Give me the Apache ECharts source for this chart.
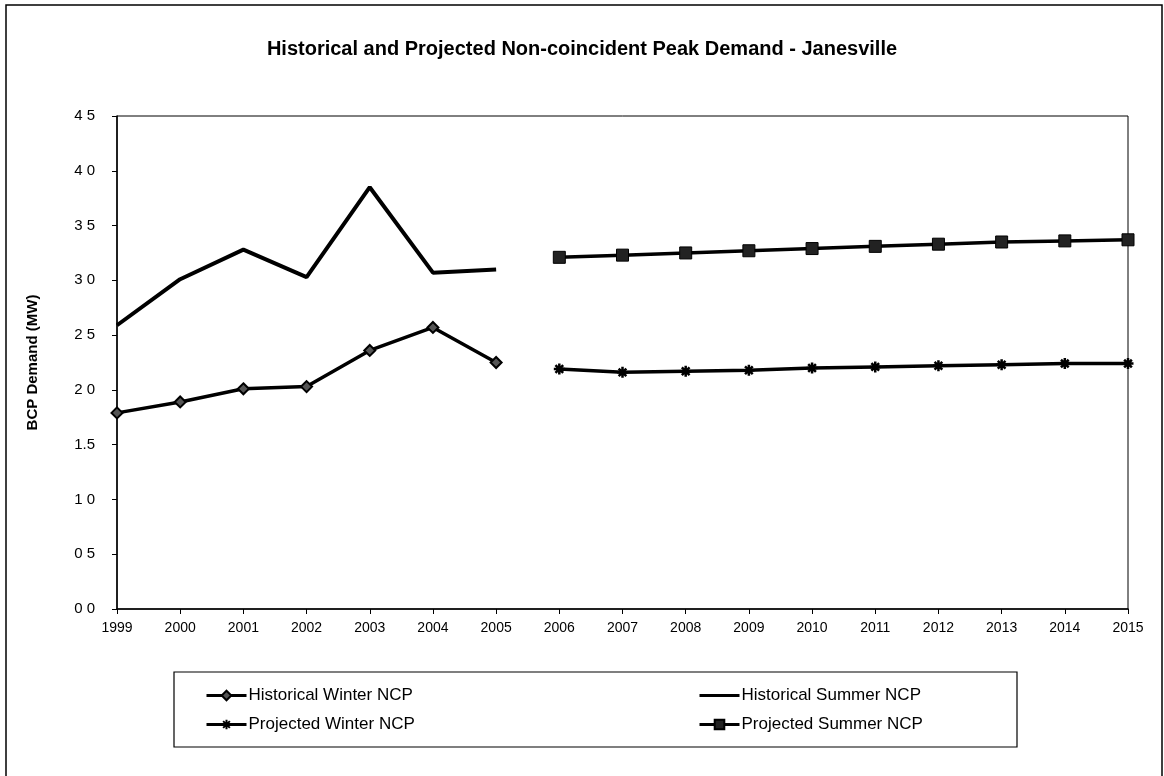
<!DOCTYPE html>
<html>
<head>
<meta charset="utf-8">
<title>Historical and Projected Non-coincident Peak Demand - Janesville</title>
<script src="https://cdn.jsdelivr.net/npm/echarts@6/dist/echarts.min.js"></script>
<style>
  html, body { margin: 0; padding: 0; background: #fff; }
  #chart { width: 1164px; height: 776px; }
</style>
</head>
<body>
<div id="chart"></div>
<script>
// Years on the x axis
const years = ['1999','2000','2001','2002','2003','2004','2005','2006','2007',
               '2008','2009','2010','2011','2012','2013','2014','2015'];
const histYears = ['1999','2000','2001','2002','2003','2004','2005'];
const projYears = ['2006','2007','2008','2009','2010','2011','2012','2013','2014','2015'];

// Non-coincident peak demand (MW)
const histWinter = [1.79, 1.89, 2.01, 2.03, 2.36, 2.57, 2.25];
const histSummer = [2.59, 3.01, 3.28, 3.03, 3.85, 3.07, 3.10];
const projWinter = [2.19, 2.16, 2.17, 2.18, 2.20, 2.21, 2.22, 2.23, 2.24, 2.24];
const projSummer = [3.21, 3.23, 3.25, 3.27, 3.29, 3.31, 3.33, 3.35, 3.36, 3.37];

// Value-axis tick labels, bottom to top
const yTicks = ['0 0','0 5','1 0','1.5','2 0','2 5','3 0','3 5','4 0','4 5'];

const FONT = '"Liberation Sans", Arial, sans-serif';

// Spread a partial series across the full year list
function onYears(subYears, values) {
  return years.map(y => {
    const i = subYears.indexOf(y);
    return i >= 0 ? values[i] : null;
  });
}

// Asterisk marker drawn as stroked strokes
const asterisk = 'path://M0,5L10,5M5,0L5,10M1.5,1.5L8.5,8.5M8.5,1.5L1.5,8.5';

const chart = echarts.init(document.getElementById('chart'), null, { renderer: 'canvas' });

function legendAt(entry, left, top) {
  return {
    data: [entry],
    left: left, top: top,
    itemWidth: 40, itemHeight: 12,
    itemGap: 0,
    padding: 0,
    lineStyle: { width: 3, color: '#000' },
    textStyle: { fontFamily: FONT, fontSize: 17, color: '#000', padding: [0, 0, 0, -3] },
    selectedMode: false
  };
}

const option = {
  animation: false,
  backgroundColor: '#fff',
  title: {
    text: 'Historical and Projected Non-coincident Peak Demand - Janesville',
    left: 'center',
    top: 34,
    textStyle: { fontFamily: FONT, fontSize: 20, fontWeight: 'bold', color: '#000' }
  },
  grid: {
    left: 117, right: 36, top: 116, bottom: 167,
    show: true, borderColor: '#000', borderWidth: 1, backgroundColor: 'transparent'
  },
  legend: [
    legendAt('Historical Winter NCP', 205, 687),
    legendAt({ name: 'Historical Summer NCP', itemStyle: { opacity: 0 } }, 698, 687),
    legendAt('Projected Winter NCP', 205, 716),
    legendAt('Projected Summer NCP', 698, 716)
  ],
  xAxis: {
    type: 'category',
    data: years,
    boundaryGap: false,
    axisLine: { lineStyle: { color: '#000', width: 1.5 } },
    axisTick: { show: true, length: 5, inside: false, lineStyle: { color: '#000' } },
    axisLabel: { fontFamily: FONT, fontSize: 14, color: '#000', margin: 12 },
    splitLine: { show: false }
  },
  yAxis: {
    type: 'value',
    min: 0, max: 4.5, interval: 0.5,
    name: 'BCP Demand (MW)',
    nameLocation: 'middle',
    nameGap: 77,
    nameRotate: 90,
    nameTextStyle: { fontFamily: FONT, fontSize: 15, fontWeight: 'bold', color: '#000' },
    axisLine: { show: true, lineStyle: { color: '#000', width: 1.5 } },
    axisTick: { show: true, length: 5, lineStyle: { color: '#000' } },
    axisLabel: {
      fontFamily: FONT, fontSize: 15, color: '#000', margin: 22,
      formatter: v => yTicks[Math.round(v / 0.5)]
    },
    splitLine: { show: false }
  },
  series: [
    {
      name: 'Historical Winter NCP',
      type: 'line',
      data: onYears(histYears, histWinter),
      symbol: 'diamond', symbolSize: 11,
      lineStyle: { color: '#000', width: 3.5 },
      itemStyle: { color: '#555', borderColor: '#000', borderWidth: 2 }
    },
    {
      name: 'Historical Summer NCP',
      type: 'line',
      data: onYears(histYears, histSummer),
      symbol: 'none', showSymbol: false,
      lineStyle: { color: '#000', width: 4 },
      itemStyle: { color: '#000' }
    },
    {
      name: 'Projected Winter NCP',
      type: 'line',
      data: onYears(projYears, projWinter),
      symbol: asterisk, symbolSize: 11,
      lineStyle: { color: '#000', width: 3.5 },
      itemStyle: { color: '#000', borderColor: '#000', borderWidth: 2.5 }
    },
    {
      name: 'Projected Summer NCP',
      type: 'line',
      data: onYears(projYears, projSummer),
      symbol: 'rect', symbolSize: 12,
      lineStyle: { color: '#000', width: 3.5 },
      itemStyle: { color: '#222', borderColor: '#000', borderWidth: 1 }
    }
  ],
  graphic: [
    {
      type: 'rect',
      shape: { x: 6, y: 5, width: 1156, height: 820 },
      style: { fill: 'none', stroke: '#000', lineWidth: 1.5 },
      silent: true, z: -1
    },
    {
      type: 'rect',
      shape: { x: 174, y: 672, width: 843, height: 75 },
      style: { fill: 'none', stroke: '#000', lineWidth: 1.2 },
      silent: true, z: -1
    }
  ]
};

chart.setOption(option);
</script>
</body>
</html>
